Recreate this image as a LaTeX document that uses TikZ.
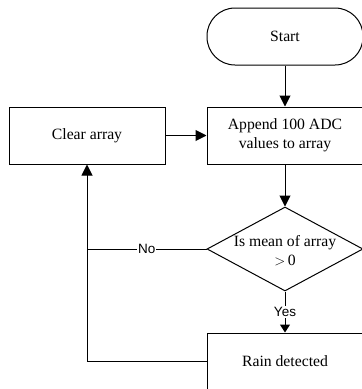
\documentclass[tikz,border=0pt]{standalone}
\usepackage{fontspec}
\setmainfont{Liberation Serif}
\newfontfamily\lblfont{Liberation Sans}
\usetikzlibrary{arrows.meta,shapes.geometric}
\begin{document}
\begin{tikzpicture}[x=1pt,y=1pt,line width=1pt,
  box/.style={draw,rectangle,minimum width=156pt,minimum height=57pt,inner sep=0pt,align=center,font=\fontsize{15.7}{19}\selectfont},
  term/.style={box,rounded corners=28pt},
  diam/.style={draw,diamond,minimum width=156pt,minimum height=84pt,inner sep=0pt},
  arr/.style={-{Triangle[length=11pt,width=11pt]}},
  sarr/.style={-{Triangle[length=8pt,width=10pt]}},
  lbl/.style={fill=white,inner sep=1pt,font=\lblfont\fontsize{13.5}{15}\selectfont}]
\useasboundingbox (0,0) rectangle (362,-389);
\node[term] (start) at (285,-36.5) {Start};
\node[box] (append) at (285,-135.5) {Append 100 ADC\\values to array};
\node[box] (clear) at (87,-135.5) {Clear array};
\node[diam] (dec) at (285,-249) {};
\node[align=center,inner sep=0pt,font=\fontsize{15.7}{19}\selectfont] (dectext) at (285,-251) {Is mean of array\\$>$\,0};
\node[box] (rain) at (285,-361.5) {Rain detected};
\draw[arr] (start) -- (append);
\draw[arr] (clear) -- (append);
\draw[arr] (append) -- (dec);
\draw[sarr] (dec) -- node[lbl] {Yes} (rain);
\draw[arr] (rain.west) -| (clear.south);
\draw (dec.west) -- node[lbl] {No} (dec.west -| clear.south);
\end{tikzpicture}
\end{document}
